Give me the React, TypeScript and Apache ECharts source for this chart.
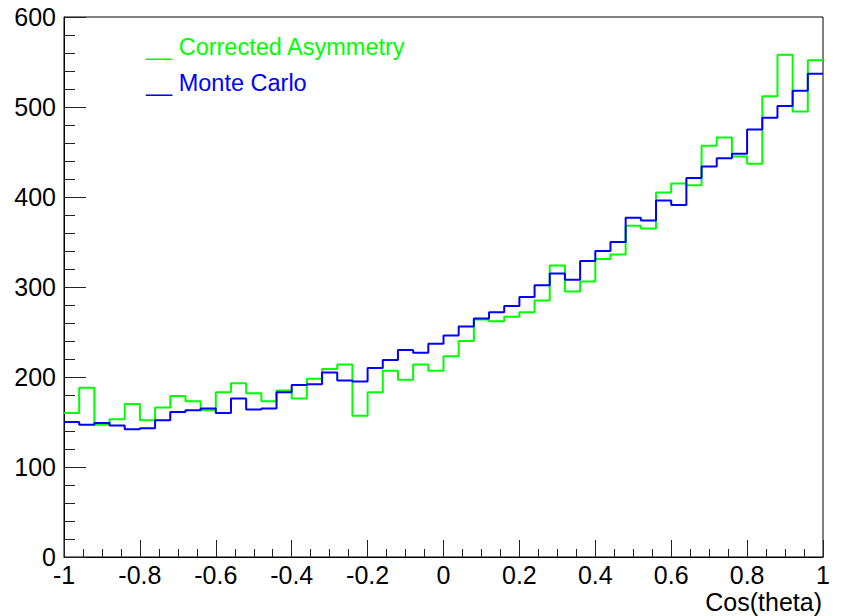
import React, { useEffect, useRef } from "react";
import * as echarts from "echarts";

const xMin = -1;
const xMax = 1;
const binCount = 50;

const correctedAsymmetry = [
  160, 188, 147, 153, 170, 152, 166, 179, 173, 163,
  183, 193, 182, 173, 185, 176, 198, 209, 214, 157,
  183, 207, 197, 214, 207, 223, 240, 264, 262, 267,
  272, 285, 324, 295, 306, 331, 336, 368, 365, 405,
  415, 413, 457, 466, 445, 437, 512, 558, 495, 552,
];

const monteCarlo = [
  150, 147, 149, 146, 142, 143, 152, 161, 163, 165,
  160, 176, 164, 165, 183, 191, 192, 205, 196, 195,
  210, 219, 230, 227, 237, 246, 256, 265, 272, 279,
  289, 302, 315, 308, 329, 340, 350, 377, 374, 396,
  391, 421, 434, 443, 448, 475, 488, 501, 518, 537,
];

const seriesNames = ["Corrected Asymmetry", "Monte Carlo"];
const seriesColors = ["#00ff00", "#0000ff"];
const xTitle = "Cos(theta)";

function toSteps(values: number[]): [number, number][] {
  const w = (xMax - xMin) / binCount;
  const pts: [number, number][] = values.map((v, i) => [xMin + i * w, v]);
  pts.push([xMax, values[values.length - 1]]);
  return pts;
}

const FONT = "'Liberation Sans', Arial, Helvetica, sans-serif";

export default function App() {
  const ref = useRef<HTMLDivElement>(null);
  useEffect(() => {
    if (!ref.current) return;
    const chart = echarts.init(ref.current, undefined, { renderer: "svg" });
    chart.setOption({
      animation: false,
      backgroundColor: "#ffffff",
      grid: {
        left: 64,
        right: 19,
        top: 17,
        bottom: 59,
        show: true,
        borderColor: "#000",
        borderWidth: 1,
        containLabel: false,
        outerBoundsMode: "none",
      },
      legend: {
        orient: "vertical",
        left: 141,
        top: 30,
        itemGap: 12,
        itemWidth: 0,
        itemHeight: 14,
        selectedMode: false,
        formatter: (n: string) => "__ " + n,
        textStyle: { fontFamily: FONT, fontSize: 23.5, lineHeight: 24, padding: [0, 0, 0, -5] },
        data: seriesNames.map((n, i) => ({
          name: n,
          icon: "none",
          textStyle: { color: seriesColors[i] },
        })),
      },
      graphic: [
        {
          type: "text",
          right: 20,
          top: 589,
          style: {
            text: xTitle,
            fontFamily: FONT,
            fontSize: 25,
            fill: "#000",
          },
        },
      ],
      xAxis: {
        type: "value",
        min: xMin,
        max: xMax,
        interval: 0.2,
        axisLine: { show: true, onZero: false, lineStyle: { color: "#000", width: 1 } },
        axisTick: { show: true, inside: true, length: 17, lineStyle: { color: "#222", width: 1 } },
        minorTick: { show: true, splitNumber: 4, length: 8, lineStyle: { color: "#222", width: 1 } },
        axisLabel: {
          fontFamily: FONT,
          fontSize: 25,
          lineHeight: 20,
          color: "#000",
          margin: 8,
          showMinLabel: true,
          showMaxLabel: true,
        },
        splitLine: { show: false },
      },
      yAxis: {
        type: "value",
        min: 0,
        max: 600,
        interval: 100,
        axisLine: { show: true, onZero: false, lineStyle: { color: "#000", width: 1 } },
        axisTick: { show: true, inside: true, length: 22, lineStyle: { color: "#222", width: 1 } },
        minorTick: { show: true, splitNumber: 5, length: 11, lineStyle: { color: "#222", width: 1 } },
        axisLabel: { fontFamily: FONT, fontSize: 25, lineHeight: 14, color: "#000", margin: 8 },
        splitLine: { show: false },
      },
      series: [
        {
          name: seriesNames[0],
          type: "line",
          step: "end",
          showSymbol: false,
          symbol: "none",
          data: toSteps(correctedAsymmetry),
          lineStyle: { color: seriesColors[0], width: 2 },
          itemStyle: { color: seriesColors[0] },
          z: 2,
        },
        {
          name: seriesNames[1],
          type: "line",
          step: "end",
          showSymbol: false,
          symbol: "none",
          data: toSteps(monteCarlo),
          lineStyle: { color: seriesColors[1], width: 2 },
          itemStyle: { color: seriesColors[1] },
          z: 3,
        },
      ],
    });
    return () => chart.dispose();
  }, []);
  return (
    <div
      ref={ref}
      style={{ position: "absolute", left: 0, top: 0, width: 842, height: 616, background: "#fff" }}
    />
  );
}
